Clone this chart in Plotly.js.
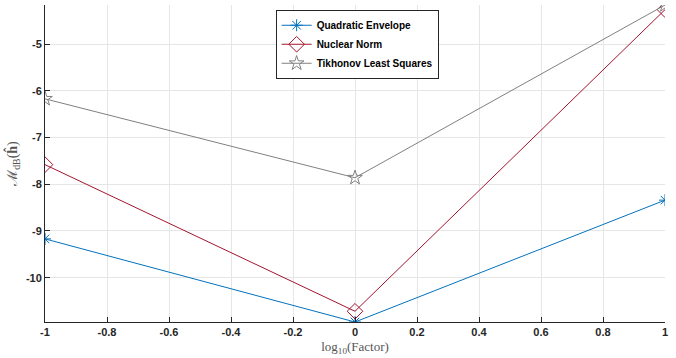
<!DOCTYPE html>
<html><head><meta charset="utf-8">
<script src="https://cdn.plot.ly/plotly-3.0.1.min.js"></script>
<style>html,body{margin:0;padding:0;background:#fff}#c{width:676px;height:358px}</style>
</head><body><div id="c"></div>
<script>
const factorLog = [-1, 0, 1];
const quadratic = [-9.17, -10.95, -8.34];
const nuclear = [-7.58, -10.72, -4.26];
const tikhonov = [-6.17, -7.86, -4.16];
const xTicks = [-1, -0.8, -0.6, -0.4, -0.2, 0, 0.2, 0.4, 0.6, 0.8, 1];
const yTicks = [-10, -9, -8, -7, -6, -5];

const mk = (name, y, color, symbol, size) => ({
  x: factorLog, y: y, name: name, type: 'scatter', mode: 'lines+markers',
  line: {color: color, width: 1},
  marker: {symbol: symbol, size: size, color: color, line: {color: color, width: 1}}
});
const data = [
  mk('Quadratic Envelope', quadratic, '#0072BD', 'asterisk-open', 10),
  mk('Nuclear Norm', nuclear, '#A2142F', 'diamond-open', 12),
  mk('Tikhonov Least Squares', tikhonov, '#808080', 'star-open', 11)
];
const layout = {
  width: 676, height: 358,
  margin: {l: 45, r: 11, t: 5, b: 36},
  paper_bgcolor: '#fff', plot_bgcolor: '#fff',
  font: {family: 'Liberation Sans, Arial, sans-serif', color: '#262626'},
  showlegend: true,
  legend: {x: 0.372, y: 0.985, xanchor: 'left', yanchor: 'top',
    bgcolor: '#fff', bordercolor: '#262626', borderwidth: 1,
    font: {size: 10, family: 'Liberation Sans, Arial, sans-serif', color: '#000', weight: 'bold'},
    tracegroupgap: 0, itemwidth: 30},
  xaxis: {range: [-1, 1], tickvals: xTicks, ticktext: xTicks.map(String),
    showgrid: true, gridcolor: '#e6e6e6', zeroline: false,
    showline: true, linecolor: '#262626', linewidth: 1,
    ticks: 'inside', ticklen: 5, tickcolor: '#262626',
    tickfont: {size: 11, weight: 'bold', color: '#262626'},
    title: {text: 'log<sub>10</sub>(Factor)', standoff: 4,
      font: {family: 'Liberation Serif, DejaVu Serif, serif', size: 13, color: '#555'}}},
  yaxis: {range: [-10.95, -4.16], tickvals: yTicks, ticktext: yTicks.map(String),
    showgrid: true, gridcolor: '#e6e6e6', zeroline: false,
    showline: true, linecolor: '#262626', linewidth: 1,
    ticks: 'inside', ticklen: 5, tickcolor: '#262626',
    tickfont: {size: 11, weight: 'bold', color: '#262626'},
    title: {text: 'ℳ<sub>dB</sub>(<b>ĥ</b>)', standoff: 4,
      font: {family: 'Liberation Serif, DejaVu Serif, serif', size: 14, color: '#555'}}}
};
Plotly.newPlot('c', data, layout, {displayModeBar: false, staticPlot: true});
</script></body></html>
